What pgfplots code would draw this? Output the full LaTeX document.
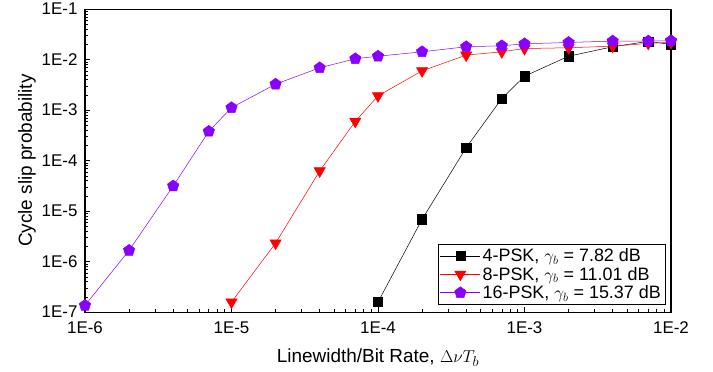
\documentclass[border=0pt]{standalone}
\usepackage{pgfplots}
\pgfplotsset{compat=1.18}
\usepackage{fontspec}
\setmainfont{Liberation Sans}
\definecolor{pur}{RGB}{136,0,255}
\begin{document}
\begin{tikzpicture}
\begin{axis}[
  scale only axis, width=586bp, height=303bp,
  xmode=log, ymode=log,
  xmin=1e-6, xmax=1e-2, ymin=1e-7, ymax=1e-1,
  xtick={1e-6,1e-5,1e-4,1e-3,1e-2},
  ytick={1e-7,1e-6,1e-5,1e-4,1e-3,1e-2,1e-1},
  xticklabel={\pgfmathtruncatemacro{\e}{round(\tick/2.302585093)}1E\e},
  yticklabel={\pgfmathtruncatemacro{\e}{round(\tick/2.302585093)}1E\e},
  tick label style={font=\fontsize{17}{19}\selectfont},
  xticklabel style={yshift=-6bp},
  yticklabel style={xshift=-4bp},
  label style={font=\fontsize{19}{21}\selectfont},
  xlabel={Linewidth/Bit Rate, $\Delta\nu T_b$},
  ylabel={Cycle slip probability},
  xlabel style={yshift=-8bp},
  ylabel style={yshift=-1bp},
  tick align=inside, xtick pos=lower, ytick pos=left,
  major tick length=5bp, minor tick length=3bp,
  axis line style={line width=1.2bp},
  every tick/.style={black, line width=0.6bp},
  legend style={at={(0.99,0.026)}, anchor=south east, draw=black, line width=0.6bp,
    font=\fontsize{18}{20}\selectfont, inner sep=2bp, row sep=0bp},
  legend cell align=left,
  legend image code/.code={\draw[mark repeat=2,mark phase=2] plot coordinates {(0bp,0bp) (20bp,0bp) (40bp,0bp)};},
  clip=false,
]
\addplot[black, line width=0.5bp, mark=square*, mark size=4.6bp, mark options={solid}] coordinates {
(1e-4,1.58e-7) (2e-4,6.9e-6) (4e-4,1.81e-4) (7e-4,1.7e-3) (1e-3,4.7e-3) (2e-3,1.17e-2) (4e-3,1.8e-2) (7e-3,2.3e-2) (1e-2,2.0e-2)};
\addlegendentry{4-PSK, $\gamma_b$ = 7.82 dB}
\addplot[red, line width=0.5bp, mark=triangle*, mark size=6.5bp, mark options={solid, rotate=180, fill=red}] coordinates {
(1e-5,1.58e-7) (2e-5,2.33e-6) (4e-5,6.25e-5) (7e-5,6.0e-4) (1e-4,1.92e-3) (2e-4,6.0e-3) (4e-4,1.23e-2) (7e-4,1.43e-2) (1e-3,1.66e-2) (2e-3,1.72e-2) (4e-3,1.85e-2) (7e-3,2.1e-2) (1e-2,2.2e-2)};
\addlegendentry{8-PSK, $\gamma_b$ = 11.01 dB}
\addplot[pur, line width=0.5bp, mark=pentagon*, mark size=6bp, mark options={solid, fill=pur}] coordinates {
(1e-6,1.36e-7) (2e-6,1.67e-6) (4e-6,3.15e-5) (7e-6,3.8e-4) (1e-5,1.12e-3) (2e-5,3.27e-3) (4e-5,6.9e-3) (7e-5,1.04e-2) (1e-4,1.17e-2) (2e-4,1.43e-2) (4e-4,1.8e-2) (7e-4,1.88e-2) (1e-3,2.06e-2) (2e-3,2.19e-2) (4e-3,2.33e-2) (7e-3,2.33e-2) (1e-2,2.37e-2)};
\addlegendentry{16-PSK, $\gamma_b$ = 15.37 dB}
\end{axis}
\path (current axis.south west) ++(-85bp,-59bp) coordinate (bl);
\path (current axis.north east) ++(42bp,9bp) coordinate (tr);
\useasboundingbox (bl) rectangle (tr);
\end{tikzpicture}
\end{document}
